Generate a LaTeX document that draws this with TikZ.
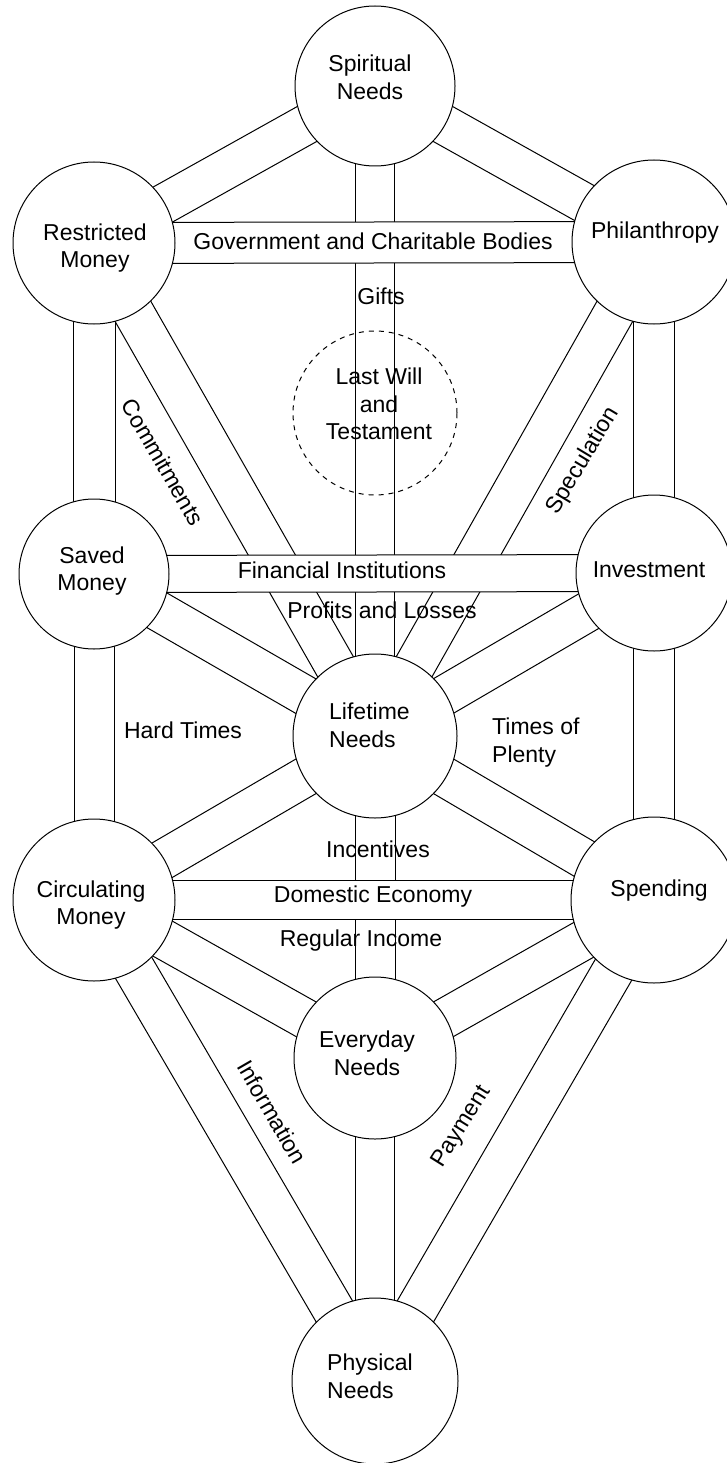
\documentclass[tikz,border=0pt]{standalone}
\usepackage{fontspec}
\setmainfont{Liberation Sans}
\usetikzlibrary{calc}
\pgfdeclarelayer{diag}
\pgfdeclarelayer{horiz}
\pgfsetlayers{diag,horiz,main}
\tikzset{
  sefira/.style={draw=black, line width=1pt, fill=white, circle, inner sep=0pt},
  daat/.style={draw=black, line width=1pt, dash pattern=on 5pt off 5pt, circle, inner sep=0pt},
  pathbar/.style={draw=black, line width=1pt},
  hbar/.style={draw=black, line width=1pt, fill=white},
  lbl/.style={inner sep=0pt, font=\fontsize{23}{27.5}\selectfont},
}
% #1 style, #2 half width, #3 from, #4 to
\newcommand\tolbar[4]{%
  \path[#1] ($(#3.center)!#2!90:(#4.center)$) -- ($(#4.center)!#2!-90:(#3.center)$)
    -- ($(#4.center)!#2!90:(#3.center)$) -- ($(#3.center)!#2!-90:(#4.center)$) -- cycle;}
\begin{document}
\spaceskip=12pt\relax
\begin{tikzpicture}[x=1pt,y=-1pt]
\useasboundingbox (0,0) rectangle (727,1463);
% spheres
\node[sefira, minimum size=160pt] (sp)  at (375,86)   {};
\node[sefira, minimum size=162pt] (rm)  at (94,243)   {};
\node[sefira, minimum size=164pt] (ph)  at (654,242)  {};
\node[sefira, minimum size=150pt] (sm)  at (94,574)   {};
\node[sefira, minimum size=156pt] (inv) at (654,573)  {};
\node[sefira, minimum size=164pt] (lt)  at (375,736)  {};
\node[sefira, minimum size=162pt] (cm)  at (94,900)   {};
\node[sefira, minimum size=166pt] (spd) at (654,900)  {};
\node[sefira, minimum size=162pt] (ev)  at (375,1058) {};
\node[sefira, minimum size=166pt] (pn)  at (375,1381) {};
\node[daat, minimum size=164pt] (da) at (375,413) {};
% paths
\begin{pgfonlayer}{diag}
\fill[white] (0,0) rectangle (727,1463);
\tolbar{pathbar}{20pt}{sp}{rm}
\tolbar{pathbar}{20pt}{sp}{ph}
\tolbar{pathbar}{19.5pt}{sp}{lt}
\tolbar{pathbar}{21pt}{rm}{sm}
\tolbar{pathbar}{20.5pt}{rm}{lt}
\tolbar{pathbar}{20.5pt}{ph}{inv}
\tolbar{pathbar}{20.5pt}{ph}{lt}
\tolbar{pathbar}{20pt}{sm}{lt}
\tolbar{pathbar}{20pt}{sm}{cm}
\tolbar{pathbar}{20pt}{inv}{lt}
\tolbar{pathbar}{20.5pt}{inv}{spd}
\tolbar{pathbar}{20pt}{lt}{cm}
\tolbar{pathbar}{20pt}{lt}{spd}
\tolbar{pathbar}{20pt}{lt}{ev}
\tolbar{pathbar}{20pt}{cm}{ev}
\tolbar{pathbar}{21pt}{cm}{pn}
\tolbar{pathbar}{20pt}{spd}{ev}
\tolbar{pathbar}{21pt}{spd}{pn}
\tolbar{pathbar}{19.5pt}{ev}{pn}
\end{pgfonlayer}
\begin{pgfonlayer}{horiz}
\tolbar{hbar}{20.5pt}{rm}{ph}
\tolbar{hbar}{18.5pt}{sm}{inv}
\tolbar{hbar}{19.5pt}{cm}{spd}
\end{pgfonlayer}
% sphere texts
\node[lbl, align=center] (tSp) at (370,77.5) {Spiritual\\Needs};
\node[lbl, align=center] (tRm) at (95,248) {Restricted\\Money};
\node[lbl] (tPh) at (655,232.5) {Philanthropy};
\node[lbl, align=center] (tSm) at (92,571) {Saved\\Money};
\node[lbl] (tInv) at (649,570) {Investment};
\node[lbl, align=left, anchor=west] (tLt) at (329,725.5) {Lifetime\\Needs};
\node[lbl, align=center] (tCm) at (91,905) {Circulating\\Money};
\node[lbl] (tSpd) at (659,890.5) {Spending};
\node[lbl, align=center] (tEv) at (367,1053.5) {Everyday\\Needs};
\node[lbl, align=left, anchor=west] (tPn) at (327,1376.5) {Physical\\Needs};
\node[lbl, align=center] (tDa) at (379,404) {Last Will\\and\\Testament};
% path texts
\node[lbl] (tGov) at (373,241.5) {Government and Charitable Bodies};
\node[lbl] (tGift) at (381,296) {Gifts};
\node[lbl] (tFin) at (342,570) {Financial Institutions};
\node[lbl] (tPro) at (382,610) {Profits and Losses};
\node[lbl] (tHard) at (183,730) {Hard Times};
\node[lbl, align=left, anchor=west] (tPlen) at (492,742.5) {Times of\\Plenty};
\node[lbl] (tInc) at (378,849.5) {Incentives};
\node[lbl] (tDom) at (373,897) {Domestic Economy};
\node[lbl] (tReg) at (361,940.5) {Regular Income};
\node[lbl, rotate=-60] (tCom) at (163,462) {Commitments};
\node[lbl, rotate=59] (tSpec) at (583,461) {Speculation};
\node[lbl, rotate=-60] (tInf) at (272,1112) {Information};
\node[lbl, rotate=58] (tPay) at (462,1127) {Payment};
\end{tikzpicture}
\end{document}
